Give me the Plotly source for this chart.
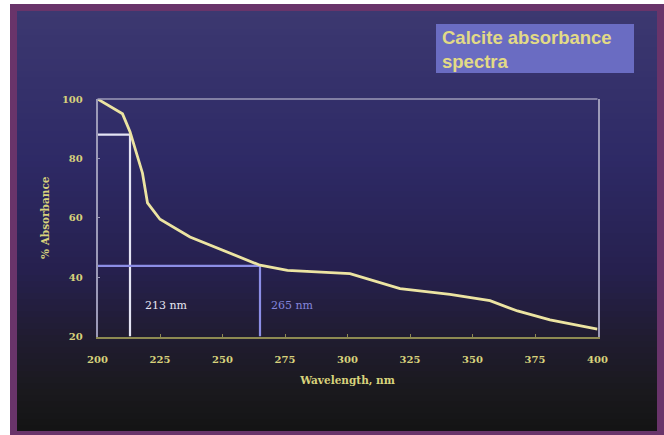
import plotly.graph_objects as go

# ---- data ----
wavelength = [200, 210, 213, 218, 220, 225, 237, 250, 265, 276, 290, 301, 321, 341, 357, 368, 381, 400]
absorbance = [100, 95, 89, 75, 65, 59.5, 53.5, 49, 44, 42.3, 41.8, 41.2, 36.1, 34.2, 32.1, 28.6, 25.6, 22.5]

x_ticks = [200, 225, 250, 275, 300, 325, 350, 375, 400]
y_ticks = [20, 40, 60, 80, 100]

marker1_x, marker1_y, marker1_label = 213, 88, "213 nm"
marker2_x, marker2_y, marker2_label = 265, 43.8, "265 nm"

title_text = "<b>Calcite absorbance</b><br><b>spectra</b>"

W, H = 664, 435


def px(x):
    return x / W


def py(y):
    return 1 - y / H


def lerp(c1, c2, t):
    return tuple(int(round(a + (b - a) * t)) for a, b in zip(c1, c2))


stops = [(0.0, (60, 56, 112)), (0.35, (46, 42, 102)), (0.62, (38, 32, 78)),
         (0.78, (32, 28, 48)), (0.9, (26, 25, 30)), (1.0, (20, 20, 20))]


def grad(t):
    for (t0, c0), (t1, c1) in zip(stops[:-1], stops[1:]):
        if t <= t1:
            return lerp(c0, c1, (t - t0) / (t1 - t0))
    return stops[-1][1]


shapes = []
# purple slide border
shapes.append(dict(type="rect", xref="paper", yref="paper", layer="below",
                   x0=px(10), x1=px(664), y0=py(435), y1=py(4),
                   fillcolor="#69346a", line=dict(width=0)))
# gradient background bands
top, bot = 11, 431
n = 70
for i in range(n):
    y0 = top + (bot - top) * i / n
    y1 = top + (bot - top) * (i + 1) / n + 0.6
    c = grad((i + 0.5) / n)
    shapes.append(dict(type="rect", xref="paper", yref="paper", layer="below",
                       x0=px(17), x1=px(657), y0=py(min(y1, bot)), y1=py(y0),
                       fillcolor="rgb(%d,%d,%d)" % c, line=dict(width=0)))
# title box
shapes.append(dict(type="rect", xref="paper", yref="paper", layer="below",
                   x0=px(436), x1=px(634), y0=py(73), y1=py(24),
                   fillcolor="#6a6cc2", line=dict(width=0)))
# top frame line
shapes.append(dict(type="line", xref="x domain", yref="y domain", x0=0, x1=1, y0=1, y1=1,
                   line=dict(color="#9c9ab8", width=1.5)))

fig = go.Figure()

# marker lines
fig.add_trace(go.Scatter(x=[200, marker1_x, marker1_x], y=[marker1_y, marker1_y, 20],
                         mode="lines", line=dict(color="#e4e4f4", width=2.2),
                         hoverinfo="skip", showlegend=False))
fig.add_trace(go.Scatter(x=[200, marker2_x, marker2_x], y=[marker2_y, marker2_y, 20],
                         mode="lines", line=dict(color="#8c8ee6", width=2.2),
                         hoverinfo="skip", showlegend=False))
# spectrum
fig.add_trace(go.Scatter(x=wavelength, y=absorbance, mode="lines",
                         line=dict(color="#ece4a2", width=2.8),
                         showlegend=False))

tick_font = dict(family="DejaVu Serif", size=10, color="#d8d27c")
title_font = dict(family="DejaVu Serif", size=10.5, color="#d8d27c")

fig.update_layout(
    width=W, height=H,
    margin=dict(l=0, r=0, t=0, b=0, autoexpand=False),
    paper_bgcolor="white",
    plot_bgcolor="rgba(0,0,0,0)",
    shapes=shapes,
    xaxis=dict(domain=[px(97.5), px(597.5)], range=[200, 400], tickvals=x_ticks,
               ticktext=["<b>%d</b>" % v for v in x_ticks],
               showgrid=False, zeroline=False, showline=True, linecolor="#8e8a52", linewidth=1.5,
               ticks="inside", ticklen=3, tickcolor="#8e8a52", tickfont=tick_font,
               ticklabelstandoff=13,
               title=dict(text="<b>Wavelength, nm</b>", font=title_font, standoff=12)),
    yaxis=dict(domain=[py(336.5), py(99)], range=[20, 100], tickvals=y_ticks,
               ticktext=["<b>%d</b>" % v for v in y_ticks],
               showgrid=False, zeroline=False, showline=True, mirror=True,
               linecolor="#9c9ab8", linewidth=1.5,
               ticks="inside", ticklen=3, tickcolor="#9c9ab8", tickfont=tick_font,
               ticklabelstandoff=11,
               title=dict(text="<b>% Absorbance</b>", font=title_font, standoff=10)),
    annotations=[
        dict(x=227.5, y=30.4, xref="x", yref="y", text=marker1_label, showarrow=False,
             font=dict(family="DejaVu Serif", size=11, color="#e6e6f2")),
        dict(x=278, y=30.4, xref="x", yref="y", text=marker2_label, showarrow=False,
             font=dict(family="DejaVu Serif", size=11, color="#8486dc")),
        dict(x=px(440), y=py(49), xref="paper", yref="paper", xanchor="left", yanchor="middle",
             text=title_text, showarrow=False, align="left",
             font=dict(family="Liberation Sans", size=18.5, color="#e2da86")),
    ],
)

fig.write_html("out.html", config={"displayModeBar": False},
               post_script="document.body.style.margin='0';document.body.style.overflow='hidden';")
